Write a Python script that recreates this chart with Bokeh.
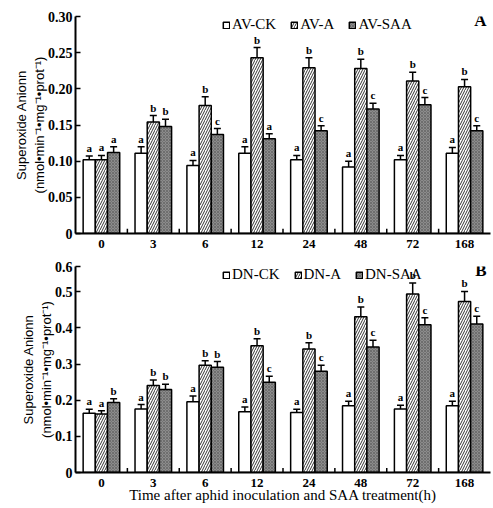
from bokeh.plotting import figure
from bokeh.models import (ColumnDataSource, FactorRange, Range1d, FixedTicker, Whisker,
                          TeeHead, Legend, LegendItem, Label, PrintfTickFormatter)
from bokeh.transform import dodge
from bokeh.layouts import column
from bokeh.embed import file_html
from bokeh.resources import INLINE
from bokeh.core.properties import value

times = ["0", "3", "6", "12", "24", "48", "72", "168"]

# Panel A (AV)
av_ck = [0.102, 0.111, 0.094, 0.111, 0.102, 0.092, 0.102, 0.111]
av_ck_err = [0.005, 0.009, 0.007, 0.009, 0.006, 0.008, 0.006, 0.008]
av_a = [0.102, 0.154, 0.177, 0.243, 0.229, 0.228, 0.211, 0.203]
av_a_err = [0.006, 0.009, 0.012, 0.014, 0.014, 0.013, 0.012, 0.010]
av_saa = [0.112, 0.148, 0.137, 0.131, 0.142, 0.172, 0.178, 0.142]
av_saa_err = [0.008, 0.010, 0.008, 0.007, 0.007, 0.008, 0.010, 0.007]
av_ck_sig = ["a", "a", "a", "a", "a", "a", "a", "a"]
av_a_sig = ["a", "b", "b", "b", "b", "b", "b", "b"]
av_saa_sig = ["a", "b", "c", "a", "c", "c", "c", "c"]

# Panel B (DN)
dn_ck = [0.164, 0.176, 0.196, 0.168, 0.166, 0.185, 0.176, 0.185]
dn_ck_err = [0.011, 0.012, 0.016, 0.013, 0.009, 0.012, 0.010, 0.012]
dn_a = [0.162, 0.241, 0.297, 0.351, 0.342, 0.431, 0.494, 0.473]
dn_a_err = [0.009, 0.015, 0.012, 0.019, 0.017, 0.027, 0.030, 0.028]
dn_saa = [0.194, 0.230, 0.291, 0.250, 0.280, 0.347, 0.409, 0.411]
dn_saa_err = [0.010, 0.014, 0.016, 0.016, 0.017, 0.019, 0.019, 0.021]
dn_ck_sig = ["a", "a", "a", "a", "a", "a", "a", "a"]
dn_a_sig = ["a", "b", "b", "b", "b", "b", "b", "b"]
dn_saa_sig = ["b", "b", "b", "c", "c", "c", "c", "c"]

a_names = ["AV-CK", "AV-A", "AV-SAA"]
b_names = ["DN-CK", "DN-A", "DN-SAA"]
a_ticks = [0, 0.05, 0.10, 0.15, 0.20, 0.25, 0.30]
b_ticks = [0, 0.1, 0.2, 0.3, 0.4, 0.5, 0.57]
b_top_label = "0.6"

SERIF = "Liberation Serif"
SANS = "Liberation Sans"
YLABEL = "Superoxide Anionn\n(nmol\u2022min\u207b\u00b9\u2022mg\u207b\u00b9\u2022prot\u207b\u00b9)"

STYLES = [
    dict(fill_color="white"),
    dict(fill_color="white", hatch_pattern="/", hatch_scale=5, hatch_weight=0.8, hatch_color="black"),
    dict(fill_color="#8c8c8c", hatch_pattern="x", hatch_scale=3, hatch_weight=0.5, hatch_color="#505050"),
]
OFFSETS = [-0.235, 0.0, 0.235]
BW = 0.235
FIG_W = 493
LEFT = 75
RIGHT = 3


def panel(names, vals, errs, sigs, y_end, ticks, fmt, overrides, letter, height,
          top_border, bottom_border, xlabel):
    data = dict(t=times)
    for k in range(3):
        data[f"v{k}"] = vals[k]
        data[f"h{k}"] = [v + e for v, e in zip(vals[k], errs[k])]
        data[f"s{k}"] = sigs[k]
    src = ColumnDataSource(data)

    p = figure(x_range=FactorRange(*times, range_padding=0), y_range=Range1d(0, y_end),
               width=FIG_W, height=height, output_backend="svg", toolbar_location=None,
               min_border_left=LEFT, min_border_right=RIGHT, min_border_top=top_border,
               min_border_bottom=bottom_border)
    p.outline_line_color = None
    p.xgrid.grid_line_color = None
    p.ygrid.grid_line_color = None
    p.background_fill_color = "white"
    p.border_fill_color = "white"

    renderers = []
    for k in range(3):
        r = p.vbar(x=dodge("t", OFFSETS[k], range=p.x_range), top=f"v{k}", width=BW,
                   source=src, line_color="black", line_width=1.5, **STYLES[k])
        renderers.append(r)
        w = Whisker(base=dodge("t", OFFSETS[k], range=p.x_range), lower=f"v{k}", upper=f"h{k}",
                    source=src, line_width=1.5, line_color="black",
                    upper_head=TeeHead(size=7, line_width=1.5, line_color="black"),
                    lower_head=None)
        p.add_layout(w)
        p.text(x=dodge("t", OFFSETS[k], range=p.x_range), y=f"h{k}", text=f"s{k}", source=src,
               text_align="center", text_baseline="bottom", y_offset=-2,
               text_font=value(SERIF), text_font_size="11px", text_font_style="bold",
               text_color="black")

    # small inward ticks between groups
    bsrc = ColumnDataSource(dict(t=times[:-1], y0=[0] * (len(times) - 1),
                                 y1=[y_end * 0.022] * (len(times) - 1)))
    p.segment(x0=dodge("t", 0.5, range=p.x_range), x1=dodge("t", 0.5, range=p.x_range),
              y0="y0", y1="y1", source=bsrc, line_color="black", line_width=1.5)

    # axes
    for ax in (p.xaxis[0], p.yaxis[0]):
        ax.axis_line_width = 2
        ax.axis_line_color = "black"
        ax.minor_tick_line_color = None
    p.xaxis.major_tick_line_color = None
    p.xaxis.major_label_standoff = 0
    p.xaxis.major_label_text_font = SERIF
    p.xaxis.major_label_text_font_size = "13px"
    p.xaxis.major_label_text_font_style = "bold"
    p.xaxis.major_label_text_color = "black"
    if xlabel:
        p.xaxis.axis_label = xlabel
        p.xaxis.axis_label_text_font = SERIF
        p.xaxis.axis_label_text_font_size = "15px"
        p.xaxis.axis_label_text_font_style = "normal"
        p.xaxis.axis_label_standoff = -3
        p.xaxis.axis_label_text_color = "black"

    p.yaxis.ticker = FixedTicker(ticks=ticks)
    p.yaxis.formatter = PrintfTickFormatter(format=fmt)
    p.yaxis.major_label_overrides = overrides
    p.yaxis.major_tick_in = 5
    p.yaxis.major_tick_out = 0
    p.yaxis.major_tick_line_width = 1.5
    p.yaxis.major_label_standoff = 3
    p.yaxis.major_label_text_font = SERIF
    p.yaxis.major_label_text_font_size = "14px"
    p.yaxis.major_label_text_font_style = "bold"
    p.yaxis.major_label_text_color = "black"
    p.yaxis.axis_label = YLABEL
    p.yaxis.axis_label_text_font = SANS
    p.yaxis.axis_label_text_font_size = "13px"
    p.yaxis.axis_label_text_font_style = "normal"
    p.yaxis.axis_label_standoff = -2
    p.yaxis.axis_label_text_color = "black"

    frame_h = height - top_border - bottom_border
    frame_w = FIG_W - LEFT - RIGHT
    legend = Legend(items=[LegendItem(label=names[k], renderers=[renderers[k]]) for k in range(3)],
                    orientation="horizontal", location=(147, frame_h - 17),
                    border_line_color=None, background_fill_alpha=0,
                    glyph_width=8, glyph_height=8, label_standoff=2, spacing=14,
                    padding=0, margin=0, label_height=16,
                    label_text_font=SERIF, label_text_font_size="15px",
                    label_text_font_style="normal", label_text_color="black")
    p.add_layout(legend)

    p.add_layout(Label(x=frame_w - 4, y=frame_h - 4, x_units="screen", y_units="screen",
                       text=letter, text_align="right", text_baseline="middle", text_font=SERIF,
                       text_font_size="17px", text_font_style="bold", text_color="black"))
    return p


pA = panel(a_names, [av_ck, av_a, av_saa], [av_ck_err, av_a_err, av_saa_err],
           [av_ck_sig, av_a_sig, av_saa_sig], 0.30, a_ticks, "%.2f", {0: "0"}, "A",
           250, 16, 17, None)
pB = panel(b_names, [dn_ck, dn_a, dn_saa], [dn_ck_err, dn_a_err, dn_saa_err],
           [dn_ck_sig, dn_a_sig, dn_saa_sig], 0.57, b_ticks, "%.1f", {0: "0", 0.57: b_top_label}, "B",
           258, 16, 36, "Time after aphid inoculation and SAA treatment(h)")

layout = column(pA, pB, spacing=0)
open("out.html", "w").write(file_html(layout, INLINE))
